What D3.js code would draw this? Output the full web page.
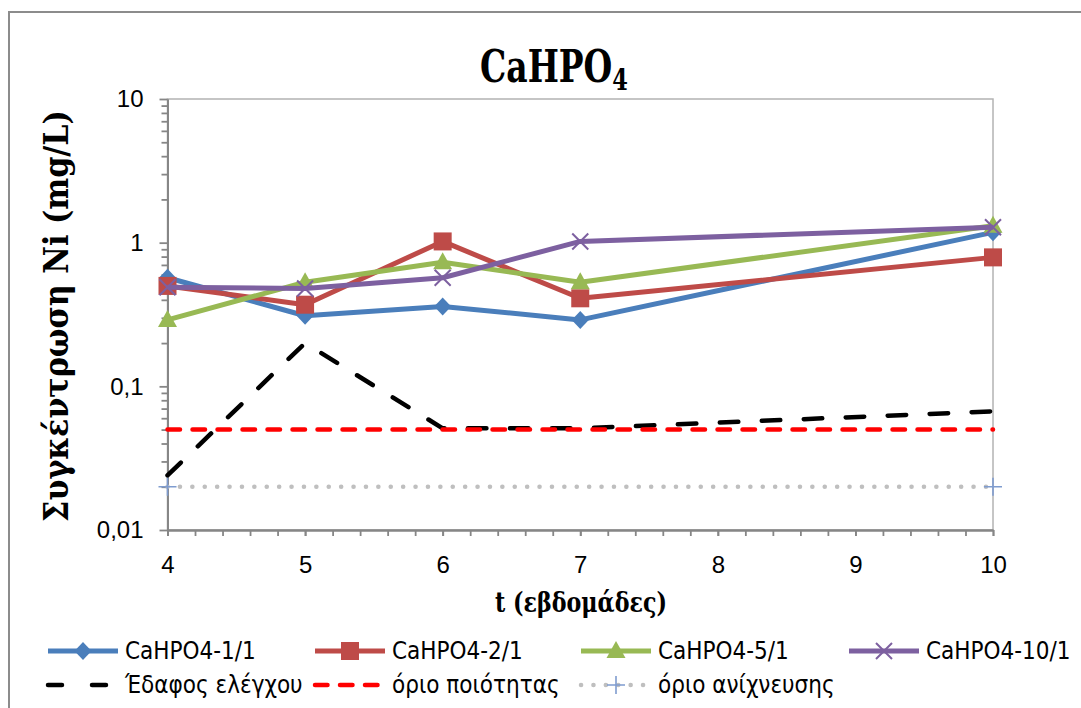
<!DOCTYPE html>
<html>
<head>
<meta charset="utf-8">
<script src="https://cdn.jsdelivr.net/npm/d3@7"></script>
<style>
  body { margin: 0; background: #fff; }
  svg { display: block; }
</style>
</head>
<body>
<svg id="chart" width="1081" height="708"></svg>
<script>
// values
const weeks = [4, 5, 6, 7, 10];
const ratio11 = [0.57, 0.31, 0.36, 0.29, 1.18];
const ratio21 = [0.50, 0.37, 1.02, 0.41, 0.79];
const ratio51 = [0.29, 0.53, 0.73, 0.53, 1.31];
const ratio101 = [0.49, 0.48, 0.57, 1.02, 1.28];
const controlSoil = [0.024, 0.20, 0.051, 0.051, 0.067];
const qualityLimit = [0.05, 0.05, 0.05, 0.05, 0.05];
const detectWeeks = [4, 10];
const detectLimit = [0.02, 0.02];

const seriesNames = ["CaHPO4-1/1", "CaHPO4-2/1", "CaHPO4-5/1", "CaHPO4-10/1",
                     "Έδαφος ελέγχου", "όριο ποιότητας", "όριο ανίχνευσης"];
const xTickValues = [4, 5, 6, 7, 8, 9, 10];
const yTickValues = [0.01, 0.1, 1, 10];
const yTickLabels = ["0,01", "0,1", "1", "10"];

const titleText = "CaHPO";
const titleSub = "4";
const xTitle = "t (εβδομάδες)";
const yTitle = "Συγκέντρωση Ni (mg/L)";

// styles, one per series (same order as seriesNames)
const styles = [
  { color: "#4A7EBB", width: 5, marker: "diamond" },
  { color: "#BE4B48", width: 5, marker: "square" },
  { color: "#98B954", width: 5, marker: "triangle" },
  { color: "#7D60A0", width: 5, marker: "x" },
  { color: "#000000", width: 4.5, dash: "18.5,23.5", cap: "round", legendDash: "14,30" },
  { color: "#FF0000", width: 4.5, dash: "12.5,12.5", cap: "round" },
  { color: "#BFBFBF", width: 4.5, dash: "0.1,12.3", cap: "round", marker: "plus", markerColor: "#7F9CCF" }
];

const sansFont = "'Liberation Sans Narrow', 'Arial Narrow', 'DejaVu Sans Condensed', 'Liberation Sans', sans-serif";
const serifFont = "'DejaVu Serif', 'Liberation Serif', serif";

const svg = d3.select("#chart");

// outer chart border
svg.append("rect")
  .attr("x", 9).attr("y", 12)
  .attr("width", 1200).attr("height", 900)
  .attr("fill", "#fff")
  .attr("stroke", "#8C8C8C")
  .attr("stroke-width", 2);

const plot = { left: 167.5, right: 993, top: 99, bottom: 530 };

const x = d3.scaleLinear().domain([4, 10]).range([plot.left, plot.right]);
const y = d3.scaleLog().domain([0.01, 10]).range([plot.bottom, plot.top]);

// plot area border
svg.append("rect")
  .attr("x", plot.left).attr("y", plot.top)
  .attr("width", plot.right - plot.left)
  .attr("height", plot.bottom - plot.top)
  .attr("fill", "none")
  .attr("stroke", "#B3B3B3")
  .attr("stroke-width", 1.5);

// minor tick positions
const yMinor = [];
[0.01, 0.1, 1].forEach(d => { for (let k = 2; k <= 9; k++) yMinor.push(k * d); });
const xMinor = d3.range(4, 10.001, 0.2);

function styleAxis(g) {
  g.select(".domain").attr("stroke", "#868686").attr("stroke-width", 1.8);
  g.selectAll(".tick line").attr("stroke", "#868686").attr("stroke-width", 1.8);
  g.selectAll(".tick text")
    .attr("fill", "#000")
    .style("font-family", "'Liberation Sans', Arial, sans-serif")
    .style("font-size", "24px");
}

// y axis
svg.append("g")
  .attr("transform", `translate(${plot.left},0)`)
  .call(d3.axisLeft(y).tickValues(yMinor).tickSize(6).tickSizeOuter(0).tickFormat(""))
  .call(styleAxis);
svg.append("g")
  .attr("transform", `translate(${plot.left},0)`)
  .call(d3.axisLeft(y).tickValues(yTickValues).tickSize(8).tickSizeOuter(0)
    .tickPadding(16).tickFormat((d, i) => yTickLabels[i]))
  .call(styleAxis);

// x axis
svg.append("g")
  .attr("transform", `translate(0,${plot.bottom})`)
  .call(d3.axisBottom(x).tickValues(xMinor).tickSize(6).tickSizeOuter(0).tickFormat(""))
  .call(styleAxis);
svg.append("g")
  .attr("transform", `translate(0,${plot.bottom})`)
  .call(d3.axisBottom(x).tickValues(xTickValues).tickSize(6).tickSizeOuter(0)
    .tickPadding(20).tickFormat(d3.format("d")))
  .call(styleAxis);

// squeeze a text horizontally to a given width (around its centre)
function fitWidth(sel, w) {
  const b = sel.node().getBBox();
  const cx = b.x + b.width / 2;
  sel.attr("transform", `translate(${cx},0) scale(${w / b.width},1) translate(${-cx},0)`);
}

// title
const title = svg.append("text")
  .attr("x", 554).attr("y", 82)
  .attr("text-anchor", "middle")
  .style("font-family", serifFont)
  .style("font-weight", "bold")
  .style("font-size", "44px");
title.append("tspan").text(titleText);
title.append("tspan").attr("dy", 8).style("font-size", "30px").text(titleSub);
fitWidth(title, 148);

// axis titles
const xt = svg.append("text")
  .attr("x", 581).attr("y", 612)
  .attr("text-anchor", "middle")
  .style("font-family", serifFont)
  .style("font-weight", "bold")
  .style("font-size", "28px")
  .text(xTitle);
fitWidth(xt, 172);

const ytG = svg.append("g").attr("transform", "translate(68,316) rotate(-90)");
const yt = ytG.append("text")
  .attr("x", 0).attr("y", 0)
  .attr("text-anchor", "middle")
  .style("font-family", serifFont)
  .style("font-weight", "bold")
  .style("font-size", "34px")
  .text(yTitle);
fitWidth(yt, 412);

// markers
function drawMarker(g, st, cx, cy) {
  const c = st.markerColor || st.color;
  if (st.marker === "diamond") {
    g.append("path").attr("d", "M0,-9L8.5,0L0,9L-8.5,0Z")
      .attr("transform", `translate(${cx},${cy})`).attr("fill", c);
  } else if (st.marker === "square") {
    g.append("rect").attr("x", cx - 9).attr("y", cy - 9)
      .attr("width", 18).attr("height", 18).attr("fill", c);
  } else if (st.marker === "triangle") {
    g.append("path").attr("d", "M0,-10L9.5,7L-9.5,7Z")
      .attr("transform", `translate(${cx},${cy})`).attr("fill", c);
  } else if (st.marker === "x") {
    g.append("path").attr("d", "M-8,-8L8,8M-8,8L8,-8")
      .attr("transform", `translate(${cx},${cy})`)
      .attr("stroke", c).attr("stroke-width", 2).attr("fill", "none");
  } else if (st.marker === "plus") {
    g.append("path").attr("d", "M-9,0L9,0M0,-9L0,9")
      .attr("transform", `translate(${cx},${cy})`)
      .attr("stroke", c).attr("stroke-width", 1.6).attr("fill", "none");
  }
}

const allSeries = [
  { xs: weeks, ys: ratio11 },
  { xs: weeks, ys: ratio21 },
  { xs: weeks, ys: ratio51 },
  { xs: weeks, ys: ratio101 },
  { xs: weeks, ys: controlSoil },
  { xs: weeks, ys: qualityLimit },
  { xs: detectWeeks, ys: detectLimit }
];

const line = d3.line().x(d => x(d[0])).y(d => y(d[1]));

allSeries.forEach((s, i) => {
  const st = styles[i];
  const pts = s.xs.map((v, j) => [v, s.ys[j]]);
  const g = svg.append("g");
  g.append("path")
    .datum(pts)
    .attr("d", line)
    .attr("fill", "none")
    .attr("stroke", st.color)
    .attr("stroke-width", st.width)
    .attr("stroke-linejoin", "round")
    .attr("stroke-linecap", st.cap || "butt")
    .attr("stroke-dasharray", st.dash || null);
  if (st.marker) pts.forEach(p => drawMarker(g, st, x(p[0]), y(p[1])));
});

// legend
const legendColX = [48, 315, 581, 849];
const legendRowY = [651, 685];
const legend = svg.append("g");
seriesNames.forEach((name, i) => {
  const st = styles[i];
  const lx = legendColX[i % 4];
  const ly = legendRowY[Math.floor(i / 4)];
  const g = legend.append("g");
  g.append("line")
    .attr("x1", lx).attr("x2", lx + 70)
    .attr("y1", ly).attr("y2", ly)
    .attr("stroke", st.color)
    .attr("stroke-width", st.width)
    .attr("stroke-linecap", st.cap || "butt")
    .attr("stroke-dasharray", st.legendDash || st.dash || null);
  if (st.marker) drawMarker(g, st, lx + 35, ly);
  g.append("text")
    .attr("x", lx + 77).attr("y", ly + 8)
    .style("font-family", sansFont)
    .style("font-size", "24px")
    .text(name);
});
</script>
</body>
</html>
